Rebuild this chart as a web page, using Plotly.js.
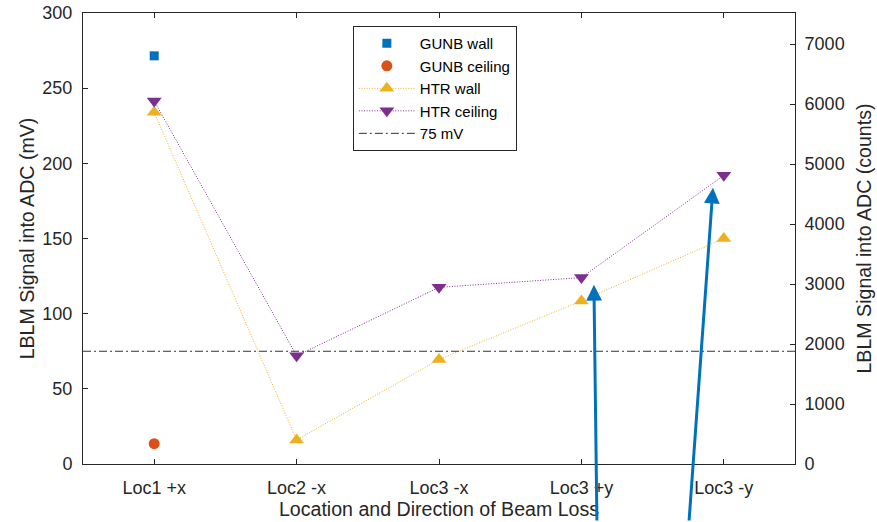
<!DOCTYPE html>
<html>
<head>
<meta charset="utf-8">
<script src="https://cdn.plot.ly/plotly-3.0.1.min.js"></script>
<style>
html,body{margin:0;padding:0;background:#fff;}
#chart{width:877px;height:522px;}
</style>
</head>
<body>
<div id="chart"></div>
<script>
// ---- data ----
const categories = ['Loc1 +x', 'Loc2 -x', 'Loc3 -x', 'Loc3 +y', 'Loc3 -y'];
const gunbWall    = [271.5, null, null, null, null];
const gunbCeiling = [13.5, null, null, null, null];
const htrWall     = [234, 16, 69.5, 108.5, 150];
const htrCeiling  = [241.5, 72, 117.5, 124, 192];
const thresholdMv = 75;
const leftTicks   = [0, 50, 100, 150, 200, 250, 300];
const rightTicks  = [0, 1000, 2000, 3000, 4000, 5000, 6000, 7000];
const countsPerMv = 25.06;
// arrow annotations (head in data units, tail offset in pixels)
const arrowHeadX  = [3.088, 3.924];
const arrowHeadY  = [119.2, 183.8];
const arrowTailDX = [3, -24];
const arrowTailDY = [260, 372];

const idx = categories.map((c, i) => i);
const xMin = -0.5, xMax = categories.length - 0.5;

const FONT = 'Liberation Sans, Arial, Helvetica, sans-serif';
const TXT = '#262626';
const AX = '#262626';
const DOT = '1px,1.6px';

const traces = [
  {x: idx, y: gunbWall, name: 'GUNB wall', mode: 'markers', type: 'scatter',
   marker: {symbol: 'square', size: 9, color: '#0072BD'}},
  {x: idx, y: gunbCeiling, name: 'GUNB ceiling', mode: 'markers', type: 'scatter',
   marker: {symbol: 'circle', size: 11, color: '#D95319'}},
  {x: idx, y: htrWall, name: 'HTR wall', mode: 'lines+markers', type: 'scatter',
   line: {color: '#EDB120', width: 1, dash: DOT},
   marker: {symbol: 'triangle-up', size: 13, color: '#EDB120'}},
  {x: idx, y: htrCeiling, name: 'HTR ceiling', mode: 'lines+markers', type: 'scatter',
   line: {color: '#7E2F8E', width: 1, dash: DOT},
   marker: {symbol: 'triangle-down', size: 13, color: '#7E2F8E'}},
  {x: [xMin, xMax], y: [thresholdMv, thresholdMv], name: '75 mV', mode: 'lines', type: 'scatter',
   line: {color: '#333333', width: 1, dash: '8px,3px,2px,3px'}},
  {x: [xMin], y: [0], yaxis: 'y2', mode: 'markers', showlegend: false, hoverinfo: 'skip',
   marker: {opacity: 0}}
];

const annotations = arrowHeadX.map((hx, i) => ({
  x: hx, y: arrowHeadY[i], xref: 'x', yref: 'y',
  ax: arrowTailDX[i], ay: arrowTailDY[i], axref: 'pixel', ayref: 'pixel',
  text: '', showarrow: true, arrowhead: 2, arrowsize: 1.05, arrowwidth: 3,
  arrowcolor: '#0072BD', standoff: 0, startstandoff: 0
}));

const layout = {
  width: 877, height: 522,
  margin: {l: 83, r: 82, t: 13, b: 58, pad: 0},
  paper_bgcolor: '#ffffff', plot_bgcolor: '#ffffff',
  font: {family: FONT, color: TXT, size: 18},
  showlegend: true,
  legend: {
    x: 0.379, y: 0.971, xanchor: 'left', yanchor: 'top',
    bgcolor: '#ffffff', bordercolor: AX, borderwidth: 1,
    font: {family: FONT, size: 15, color: '#000000'},
    itemwidth: 56, tracegroupgap: 0
  },
  xaxis: {
    range: [xMin, xMax], tickmode: 'array', tickvals: idx, ticktext: categories,
    ticks: 'inside', ticklen: 5, tickcolor: AX, showline: true, linecolor: AX, linewidth: 1,
    mirror: 'ticks', showgrid: false, zeroline: false, ticklabelstandoff: 7,
    tickfont: {family: FONT, size: 18, color: TXT},
    title: {text: 'Location and Direction of Beam Loss', font: {family: FONT, size: 19.6, color: TXT}, standoff: 5}
  },
  yaxis: {
    range: [0, 300], tickmode: 'array', tickvals: leftTicks,
    ticks: 'inside', ticklen: 5, tickcolor: AX, showline: true, linecolor: AX, linewidth: 1,
    showgrid: false, zeroline: false, ticklabelstandoff: 6,
    tickfont: {family: FONT, size: 18, color: TXT},
    title: {text: 'LBLM Signal into ADC (mV)', font: {family: FONT, size: 19.6, color: TXT}, standoff: 2}
  },
  yaxis2: {
    overlaying: 'y', side: 'right', anchor: 'x',
    range: [0, 300 * countsPerMv], tickmode: 'array', tickvals: rightTicks,
    ticks: 'inside', ticklen: 5, tickcolor: AX, showline: true, linecolor: AX, linewidth: 1,
    showgrid: false, zeroline: false, ticklabelstandoff: 5,
    tickfont: {family: FONT, size: 18, color: TXT},
    title: {text: 'LBLM Signal into ADC (counts)', font: {family: FONT, size: 19.6, color: TXT}, standoff: 13}
  },
  annotations: annotations
};

Plotly.newPlot('chart', traces, layout, {displayModeBar: false, staticPlot: true});
</script>
</body>
</html>
